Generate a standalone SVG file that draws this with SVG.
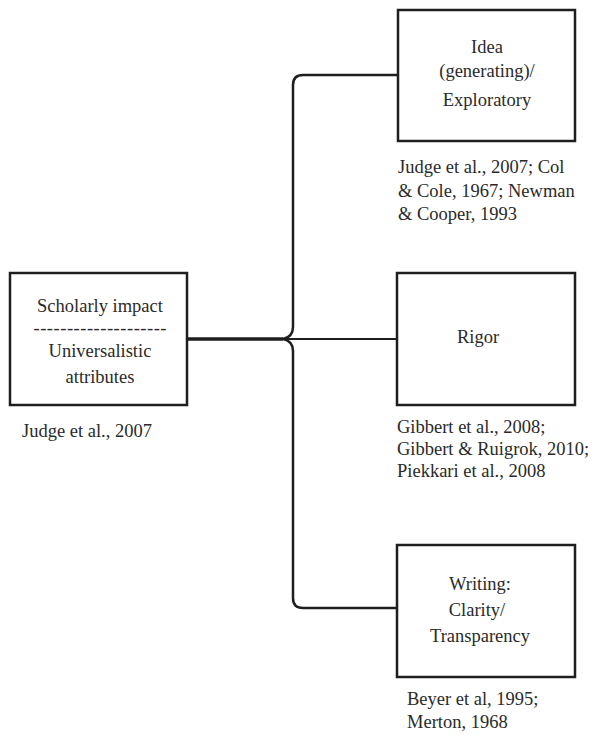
<svg xmlns="http://www.w3.org/2000/svg" width="602" height="738" viewBox="0 0 602 738">
<style>
.box{fill:#fff;stroke:#1e1e1e;stroke-width:2.5}
.t{font-family:'Liberation Serif','Times New Roman',serif;font-size:18.5px;fill:#2a2a2a}
.c{text-anchor:middle}
.ln{fill:none;stroke:#1e1e1e;stroke-width:2.5}
</style>
<rect width="602" height="738" fill="#fff"/>
<g id="connectors">
<path class="ln" d="M398,75 H303 Q293,75 293,85 V327 Q293,337 283,339 Q293,341 293,351 V598 Q293,608 303,608 H398"/>
<path class="ln" d="M187,339 H283" style="stroke-width:3.5"/>
<path class="ln" d="M283,339 H398" style="stroke-width:2"/>
</g>
<g id="scholarly">
<rect class="box" x="10" y="273" width="177" height="132"/>
<text class="t c" x="100" y="312">Scholarly impact</text>
<text class="t c" x="100" y="334" textLength="133" lengthAdjust="spacing">--------------------</text>
<text class="t c" x="100" y="357">Universalistic</text>
<text class="t c" x="100" y="383">attributes</text>
<text class="t" x="22" y="437">Judge et al., 2007</text>
</g>
<g id="idea">
<rect class="box" x="398" y="10" width="177" height="131"/>
<text class="t c" x="487" y="53">Idea</text>
<text class="t c" x="487" y="77">(generating)/</text>
<text class="t c" x="487" y="106">Exploratory</text>
<text class="t" x="398" y="173">Judge et al., 2007; Col</text>
<text class="t" x="398" y="197">&amp; Cole, 1967; Newman</text>
<text class="t" x="398" y="220">&amp; Cooper, 1993</text>
</g>
<g id="rigor">
<rect class="box" x="397" y="273" width="178" height="132"/>
<text class="t c" x="478" y="343">Rigor</text>
<text class="t" x="397" y="433">Gibbert et al., 2008;</text>
<text class="t" x="397" y="455">Gibbert &amp; Ruigrok, 2010;</text>
<text class="t" x="397" y="477">Piekkari et al., 2008</text>
</g>
<g id="writing">
<rect class="box" x="397" y="545" width="178" height="132"/>
<text class="t c" x="480" y="590">Writing:</text>
<text class="t c" x="477" y="616">Clarity/</text>
<text class="t c" x="480" y="642">Transparency</text>
<text class="t" x="407" y="705">Beyer et al, 1995;</text>
<text class="t" x="407" y="728">Merton, 1968</text>
</g>
</svg>
